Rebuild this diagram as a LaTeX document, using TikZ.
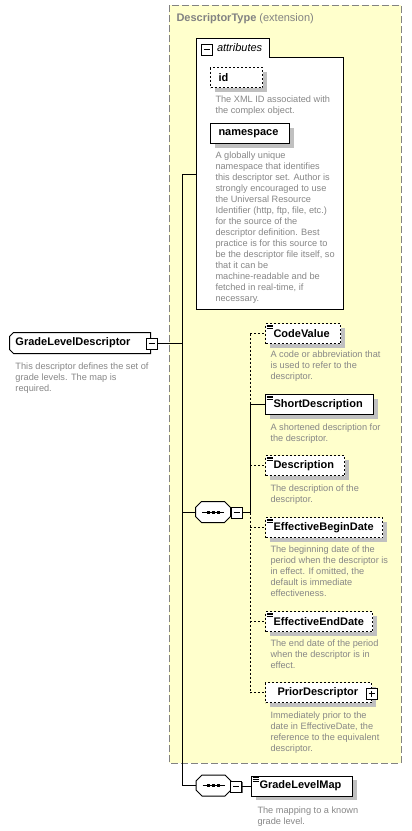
\documentclass[tikz,border=0pt]{standalone}
\usepackage{fontspec}
\setmainfont{Liberation Sans}
\usetikzlibrary{shadows}
\definecolor{yel}{RGB}{255,255,204}
\definecolor{bordgray}{RGB}{130,130,130}
\definecolor{descgray}{RGB}{135,135,135}
\definecolor{shadgray}{RGB}{192,192,192}
\newcommand\elicon[1]{\foreach \k in {2,3.8,5.6} \draw[line width=0.8pt] ([xshift=1.5pt,yshift=-\k pt]#1.north west) -- ++(6,0);}
% octagon outline round a named node: #1 node, #2 chamfer
\newcommand\octopath[2]{([xshift=#2]#1.north west) -- ([xshift=-#2]#1.north east) -- ([yshift=-#2]#1.north east) -- ([yshift=#2]#1.south east) -- ([xshift=-#2]#1.south east) -- ([xshift=#2]#1.south west) -- ([yshift=#2]#1.south west) -- ([yshift=-#2]#1.north west) -- cycle}
\newcommand\seqmark[1]{%
  \fill[shadgray, shift={(4,4)}] \octopath{#1}{6pt};
  \draw[fill=white] \octopath{#1}{6pt};
  \draw ([xshift=-11pt]#1.center) -- ([xshift=11pt]#1.center);
  \foreach \d in {-5,0,5} \fill ([xshift=\d pt]#1.center) ++(-1.5,-1.5) rectangle ++(3,3);}
\begin{document}
\begin{tikzpicture}[x=1pt,y=-1pt,line width=1pt,
  elem/.style={draw, fill=white, rectangle, anchor=north west, minimum height=20pt,
    inner xsep=8pt, inner ysep=0pt, align=left, font=\fontsize{11}{13}\selectfont\bfseries,
    general shadow={fill=shadgray, shadow xshift=4pt, shadow yshift=-4pt}},
  opt/.style={dash pattern=on 2pt off 2pt},
  desc/.style={anchor=north west, inner sep=0pt, align=left, text=descgray,
    font=\fontsize{9.2}{11}\selectfont},
  minusbox/.style={draw, fill=white, rectangle, minimum size=11pt, inner sep=0pt, line width=0.8pt,
    general shadow={fill=black!60, shadow xshift=1pt, shadow yshift=-1pt},
    path picture={\draw[line width=0.8pt] ([xshift=2.5pt]path picture bounding box.west) -- ([xshift=-2.5pt]path picture bounding box.east);}},
  plusbox/.style={minusbox,
    path picture={\draw[line width=0.8pt] ([xshift=2.5pt]path picture bounding box.west) -- ([xshift=-2.5pt]path picture bounding box.east);
      \draw[line width=0.8pt] ([yshift=-2.5pt]path picture bounding box.north) -- ([yshift=2.5pt]path picture bounding box.south);}},
  seqnode/.style={rectangle, minimum width=34pt, minimum height=20pt, inner sep=0pt},
  lbl/.style={anchor=west, inner sep=0pt}
]
\useasboundingbox (0,0) rectangle (412,831);
\fill[white] (0,0) rectangle (412,831);

% extension region
\draw[bordgray, fill=yel, dash pattern=on 7pt off 3pt] (169,5) rectangle (401,763);
\node[lbl, text=bordgray, font=\fontsize{11}{13}\selectfont] (title) at (176,19) {\textbf{DescriptorType} (extension)};

% attributes group
\draw[fill=white] (196,309) -- (196,38) -- (269,38) -- (269,57.5) -- (343,57.5) -- (343,309) -- cycle;
\coordinate (attrin) at (196,174);
\node[minusbox] (am) at (206.5,49.5) {};
\node[lbl, font=\fontsize{11}{13}\selectfont\itshape] (atitle) at (216.5,48) {attributes};

\node[elem, opt, text width=36pt] (id) at (210,67) {id};
\node[desc] (did) at (215,95) {The XML ID associated with\\the complex object.};
\node[elem, text width=63pt] (ns) at (210,123) {namespace};
\node[desc] (dns) at (215,151) {A globally unique\\namespace that identifies\\this descriptor set. Author is\\strongly encouraged to use\\the Universal Resource\\Identifier (http, ftp, file, etc.)\\for the source of the\\descriptor definition. Best\\practice is for this source to\\be the descriptor file itself, so\\that it can be\\machine-readable and be\\fetched in real-time, if\\necessary.};

% root element
\node[rectangle, minimum width=140pt, minimum height=20pt, inner sep=0pt] (gld) at (80,343) {};
\draw[fill=white] ([xshift=4pt]gld.north west) -- (gld.north east) -- (gld.south east) -- ([xshift=4pt]gld.south west) -- ([yshift=4pt]gld.south west) -- ([yshift=-4pt]gld.north west) -- cycle;
\node[lbl, font=\fontsize{11}{13}\selectfont\bfseries] (gldt) at (15,343) {GradeLevelDescriptor};
\node[minusbox] (gldm) at (151.5,343.5) {};
\node[desc] (dgld) at (15,362) {This descriptor defines the set of\\grade levels. The map is\\required.};

% sequence 1
\node[seqnode] (seq1) at (213,512) {};
\seqmark{seq1}
\node[minusbox] (s1m) at (236.5,512.5) {};

% children
\node[elem, opt, text width=59pt] (cv) at (265,323) {CodeValue};
\elicon{cv}
\node[desc] (dcv) at (270,350) {A code or abbreviation that\\is used to refer to the\\descriptor.};
\node[elem, text width=92pt] (sd) at (265,394) {ShortDescription};
\elicon{sd}
\node[desc] (dsd) at (270,423) {A shortened description for\\the descriptor.};
\node[elem, opt, text width=63pt] (de) at (265,455) {Description};
\elicon{de}
\node[desc] (dde) at (270,484) {The description of the\\descriptor.};
\node[elem, opt, text width=101pt] (ebd) at (265,517) {EffectiveBeginDate};
\elicon{ebd}
\node[desc] (debd) at (270,545) {The beginning date of the\\period when the descriptor is\\in effect. If omitted, the\\default is immediate\\effectiveness.};
\node[elem, opt, text width=91pt] (eed) at (265,611) {EffectiveEndDate};
\elicon{eed}
\node[desc] (deed) at (270,639) {The end date of the period\\when the descriptor is in\\effect.};
\node[elem, opt, text width=90pt] (pd) at (265,682) {\hspace*{4pt}PriorDescriptor};
\node[plusbox] (pdp) at (371.5,693.5) {};
\node[desc] (dpd) at (270,711.5) {Immediately prior to the\\date in EffectiveDate, the\\reference to the equivalent\\descriptor.};

% sequence 2
\node[seqnode] (seq2) at (213.5,785.5) {};
\seqmark{seq2}
\node[minusbox] (s2m) at (236,786.5) {};
\node[elem, text width=85pt] (glm) at (251,775.5) {GradeLevelMap};
\elicon{glm}
\node[desc] (dglm) at (257,806.5) {The mapping to a known\\grade level.};

% connectors
\coordinate (tk) at (182,0);
\coordinate (br) at (250,0);
\draw (gldm.east) -- (gldm.east -| tk);
\draw (attrin) -| (tk |- seq2.west) -- (seq2.west);
\draw (tk |- seq1.west) -- (seq1.west);
\draw (s1m.east) -- (s1m.east -| br);
\draw[opt] (br |- cv.west) -- (br |- sd.west);
\draw (br |- sd.west) -- (br |- s1m.east);
\draw[opt] (br |- s1m.east) -- (br |- pd.west);
\draw[opt] (br |- cv.west) -- (cv.west);
\draw (br |- sd.west) -- (sd.west);
\draw[opt] (br |- de.west) -- (de.west);
\draw[opt] (br |- ebd.west) -- (ebd.west);
\draw[opt] (br |- eed.west) -- (eed.west);
\draw[opt] (br |- pd.west) -- (pd.west);
\draw (s2m.east |- glm.west) -- (glm.west);
\end{tikzpicture}
\end{document}
